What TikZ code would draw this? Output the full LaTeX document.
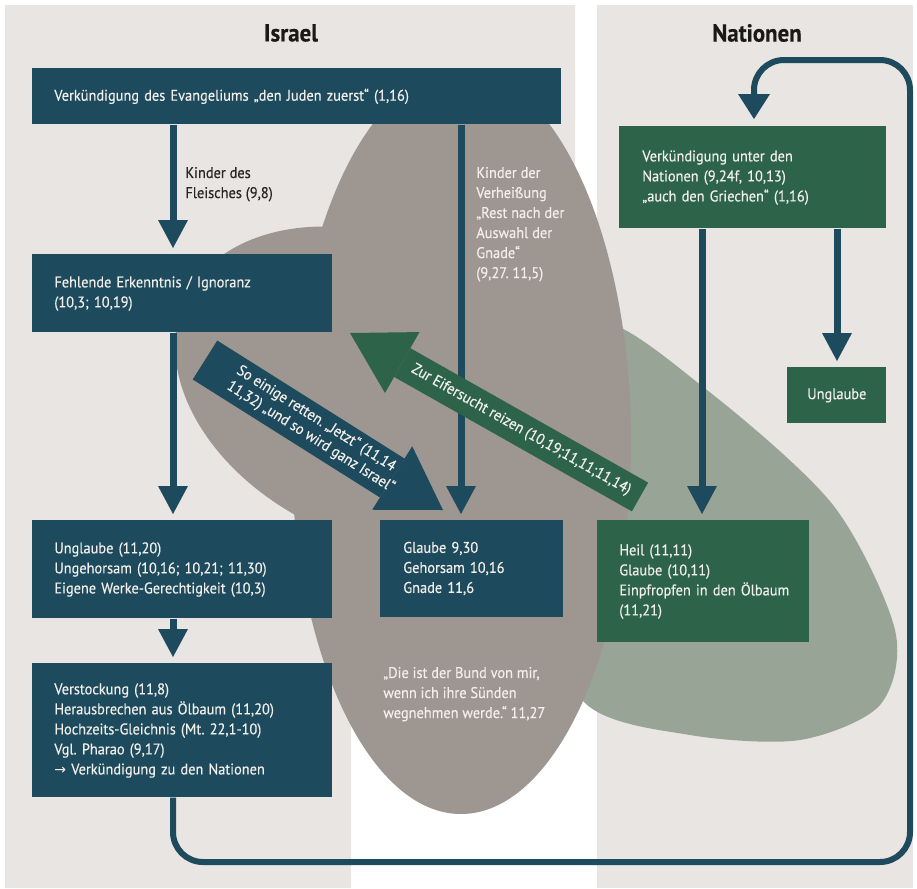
\documentclass[tikz,border=0pt]{standalone}
\usepackage{fontspec}
\setmainfont{PT Sans}[FakeStretch=0.93, FakeBold=0.35]
\newfontfamily\arrowfont{DejaVu Sans}
\usepackage{tikz}
\usetikzlibrary{arrows.meta}

\definecolor{panel}{HTML}{E8E5E2}
\definecolor{stone}{HTML}{9E9690}
\definecolor{sage}{HTML}{97A496}
\definecolor{israelblue}{HTML}{1D4A5C}
\definecolor{natgreen}{HTML}{2D6349}
\definecolor{paper}{HTML}{F2EFEA}
\newcommand{\rows}[1]{\begin{tabular}{@{}l@{}}#1\end{tabular}}
\frenchspacing

\begin{document}
\begin{tikzpicture}[x=0.2mm, y=-0.2mm,
    ibox/.style={fill=israelblue, text=paper, anchor=north west, align=left, inner xsep=4.4mm, font=\fontsize{8.8}{11.4}\selectfont},
    nbox/.style={ibox, fill=natgreen},
    remark/.style={anchor=west, align=left, inner sep=0pt, font=\fontsize{8.8}{11.4}\selectfont},
    paneltitle/.style={font=\fontsize{14}{16}\selectfont\bfseries, text=black!90},
    flow/.style={draw=israelblue, line width=1.4mm, shorten >=1.2mm, -{Triangle[length=5.6mm, width=6mm, line width=0pt]}},
    loopline/.style={draw=israelblue, line width=1.2mm, rounded corners=6mm, shorten >=1.4mm, -{Triangle[length=5mm, width=6.4mm, line width=0pt]}},
    bigarrow/.style={line width=9.2mm, -{Triangle[length=12mm, width=15mm, line width=0pt]}},
    midarrow/.style={line width=6.6mm, -{Triangle[length=12mm, width=14mm, line width=0pt]}},
    arrowtext/.style={text=paper, inner sep=0pt, font=\fontsize{8.8}{10.4}\selectfont},
]
\useasboundingbox (0,0) rectangle (917,888);

% Panels
\fill[white] (0,0) rectangle (917,888);
\fill[panel] (5,5) -- (575,5) -- (575,600) -- (351,600) -- (351,888) -- (5,888) -- cycle;
\fill[panel] (597,5) rectangle (913,888);

% Background shapes
\fill[sage] plot[smooth cycle] coordinates {(598,322) (707,390) (833,505) (895,630) (880,705) (800,740) (690,735) (585,703) (530,580) (545,420)};
\fill[stone, rotate around={-25:(380,390)}] (380,390) ellipse [x radius=215, y radius=150];
\fill[stone] (461,442) ellipse [x radius=170, y radius=372];

% Titles
\node[paneltitle] (israel) at (291,33) {Israel};
\node[paneltitle] (nationen) at (757,33) {Nationen};

% Israel boxes
\node[ibox, text width=97mm, minimum height=11.2mm] (top) at (32,68) {Verkündigung des Evangeliums „den Juden zuerst“ (1,16)};
\node[ibox, text width=51.2mm, minimum height=15.6mm] (fehl) at (32,254) {\rows{Fehlende Erkenntnis / Ignoranz\\(10,3; 10,19)}};
\node[ibox, text width=51.2mm, minimum height=19.6mm] (ungl) at (32,520) {\rows{Unglaube (11,20)\\Ungehorsam (10,16; 10,21; 11,30)\\Eigene Werke-Gerechtigkeit (10,3)}};
\node[ibox, text width=51.2mm, minimum height=26.8mm] (verst) at (32,663) {\rows{Verstockung (11,8)\\Herausbrechen aus Ölbaum (11,20)\\Hochzeits-Gleichnis (Mt. 22,1-10)\\Vgl. Pharao (9,17)\\{\arrowfont\footnotesize →} Verkündigung zu den Nationen}};
\node[ibox, inner xsep=4.6mm, text width=27.4mm, minimum height=19.4mm] (glaube) at (380,520) {\rows{Glaube 9,30\\Gehorsam 10,16\\Gnade 11,6}};

% Nationen boxes
\node[nbox, inner xsep=4.6mm, text width=44.2mm, minimum height=20.4mm] (verkn) at (619,126) {\rows{Verkündigung unter den\\Nationen (9,24f, 10,13)\\„auch den Griechen“ (1,16)}};
\node[nbox, align=center, inner xsep=0pt, minimum width=19.8mm, minimum height=11.2mm] (unglN) at (787,367) {Unglaube};
\node[nbox, text width=33.6mm, minimum height=24.4mm] (heil) at (597,520) {\rows{Heil (11,11)\\Glaube (10,11)\\Einpfropfen in den Ölbaum\\(11,21)}};

% Columns of the arrows
\coordinate (colA) at (173,0);
\coordinate (colB) at (461,0);
\coordinate (colC) at (702,0);
\coordinate (colD) at (837,0);

% Straight arrows
\draw[flow] (top.south -| colA) -- (fehl.north -| colA);
\draw[flow] (fehl.south -| colA) -- (ungl.north -| colA);
\draw[flow] (ungl.south -| colA) -- (verst.north -| colA);
\draw[flow] (top.south -| colB) -- (glaube.north -| colB);
\draw[flow] (verkn.south -| colC) -- (heil.north -| colC);
\draw[flow] (verkn.south -| colD) -- (unglN.north -| colD);

% Loop back to the Nationen
\coordinate (loopBL) at (173,862);
\coordinate (loopBR) at (910,862);
\coordinate (loopTR) at (910,60);
\coordinate (loopTL) at (754,60);
\draw[loopline] (verst.south -| loopBL) -- (loopBL) -- (loopBR) -- (loopTR) -- (loopTL) -- (loopTL |- verkn.north);

% Diagonal arrows
\coordinate (jetztA) at (205,360);
\coordinate (jetztB) at (443,510);
\coordinate (eiferA) at (640,497);
\coordinate (eiferB) at (350,333);
\draw[bigarrow, draw=israelblue] (jetztA) -- (jetztB)
    node[arrowtext, pos=0, sloped, anchor=west, xshift=2mm] {\rows{So einige retten. „Jetzt“ (11,14\\11,32) „und so wird ganz Israel“}};
\draw[midarrow, draw=natgreen] (eiferA) -- (eiferB)
    node[arrowtext, pos=0.41, sloped] {Zur Eifersucht reizen (10,19;11,11;11,14)};

% Labels
\node[remark, text=black!85] (fleisch) at (185,184) {\rows{Kinder des\\Fleisches (9,8)}};
\node[remark, text=paper] (verheiss) at (476,224) {\rows{Kinder der\\Verheißung\\„Rest nach der\\Auswahl der\\Gnade“\\(9,27. 11,5)}};
\node[remark, text=paper] (bund) at (383,694) {\rows{„Die ist der Bund von mir,\\wenn ich ihre Sünden\\wegnehmen werde.“ 11,27}};
\end{tikzpicture}
\end{document}
